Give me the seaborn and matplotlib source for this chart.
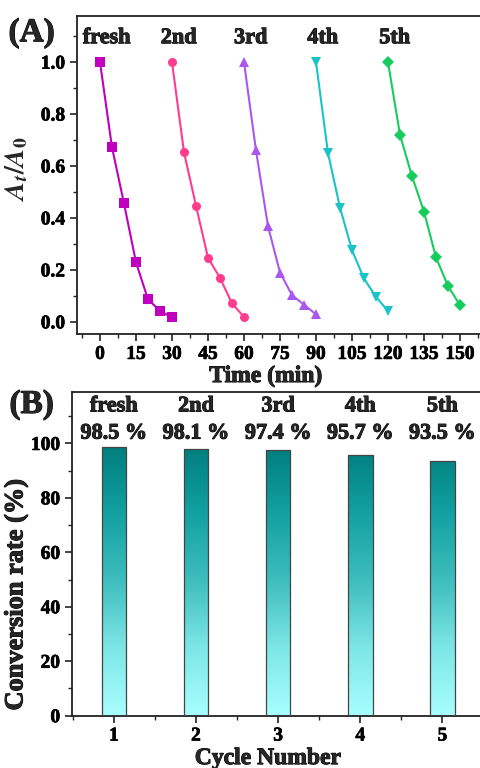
import numpy as np
import pandas as pd
import matplotlib
matplotlib.use("Agg")
import matplotlib.pyplot as plt
import matplotlib.patheffects as pe
import seaborn as sns
from matplotlib.ticker import MultipleLocator, FormatStrFormatter
from matplotlib.colors import LinearSegmentedColormap

# ---------------- data ----------------
cycle_names = ["fresh", "2nd", "3rd", "4th", "5th"]
minutes = [0, 5, 10, 15, 20, 25, 30]
ratio_fresh = [1.0, 0.672, 0.456, 0.229, 0.087, 0.042, 0.017]
ratio_2nd = [1.0, 0.653, 0.447, 0.247, 0.169, 0.071, 0.019]
ratio_3rd = [1.0, 0.660, 0.368, 0.190, 0.103, 0.066, 0.029]
ratio_4th = [1.0, 0.650, 0.440, 0.276, 0.167, 0.096, 0.042]
ratio_5th = [1.0, 0.720, 0.560, 0.424, 0.248, 0.138, 0.064]
cycle_duration = 30

cycle_numbers = [1, 2, 3, 4, 5]
conversion = [98.5, 98.1, 97.4, 95.7, 93.5]

# ---------------- style ----------------
sns.set_theme(style="ticks")
plt.rcParams["font.family"] = ["Liberation Serif", "DejaVu Serif"]
plt.rcParams["font.weight"] = "bold"
plt.rcParams["axes.labelweight"] = "bold"
plt.rcParams["mathtext.fontset"] = "stix"
plt.rcParams["axes.edgecolor"] = "#222222"
plt.rcParams["axes.linewidth"] = 1.3
plt.rcParams["xtick.color"] = "#222222"
plt.rcParams["ytick.color"] = "#222222"
plt.rcParams["xtick.labelcolor"] = "black"
plt.rcParams["ytick.labelcolor"] = "black"

heavy = [pe.withStroke(linewidth=0.7, foreground="black")]
heavy_small = [pe.withStroke(linewidth=0.5, foreground="black")]

palette = {"fresh": "#C000BE", "2nd": "#FF3D8E", "3rd": "#A957EE",
           "4th": "#19C3C8", "5th": "#17CC5E"}
markers = {"fresh": "s", "2nd": "o", "3rd": "^", "4th": "v", "5th": "D"}

series = [ratio_fresh, ratio_2nd, ratio_3rd, ratio_4th, ratio_5th]
rows = []
for i, (name, vals) in enumerate(zip(cycle_names, series)):
    for m, v in zip(minutes, vals):
        rows.append({"time": m + i * cycle_duration, "ratio": v, "cycle": name})
dfA = pd.DataFrame(rows)
dfB = pd.DataFrame({"cycle": cycle_numbers, "conv": conversion})

fig = plt.figure(figsize=(4.81, 7.68), dpi=100)


def style_ticks(ax):
    ax.tick_params(which="major", direction="out", length=5, width=1.2, labelsize=14)
    ax.tick_params(which="minor", direction="out", length=3, width=1.0)
    for lab in ax.get_xticklabels() + ax.get_yticklabels():
        lab.set_path_effects(heavy_small)


# ---------------- panel A ----------------
axA = fig.add_axes([0.160, 0.565, 0.840, 0.414])
sns.lineplot(data=dfA, x="time", y="ratio", hue="cycle", style="cycle",
             palette=palette, markers=markers, dashes=False, markersize=6.5,
             markeredgewidth=0, linewidth=1.5, legend=False, ax=axA,
             hue_order=cycle_names, style_order=cycle_names)
axA.set_xlim(-9.6, 158.75)
axA.set_ylim(-0.047, 1.177)
axA.xaxis.set_major_locator(MultipleLocator(15))
axA.xaxis.set_minor_locator(MultipleLocator(7.5))
axA.yaxis.set_major_locator(MultipleLocator(0.2))
axA.yaxis.set_minor_locator(MultipleLocator(0.1))
axA.yaxis.set_major_formatter(FormatStrFormatter("%.1f"))
axA.spines["right"].set_visible(False)
axA.set_xlabel("Time (min)", fontsize=17, fontweight="bold", path_effects=heavy)
axA.set_ylabel("$A_t/A_0$", fontsize=20)
axA.xaxis.set_label_coords(0.468, -0.10)
axA.yaxis.set_label_coords(-0.115, 0.52)
for i, name in enumerate(cycle_names):
    axA.text(i * cycle_duration + 2.8, 1.092, name, ha="center", va="center",
             fontsize=16, fontweight="bold", path_effects=heavy)
fig.text(0.066, 0.957, "(A)", fontsize=24, fontweight="bold", ha="center",
         va="center", path_effects=heavy)
style_ticks(axA)

# ---------------- panel B ----------------
axB = fig.add_axes([0.1497, 0.0681, 0.8503, 0.4219])
sns.barplot(data=dfB, x="cycle", y="conv", native_scale=True, width=0.3,
            color="#40B0B0", edgecolor="#444444", linewidth=0.9, ax=axB)
cmap = LinearSegmentedColormap.from_list(
    "teal", ["#A8FFFF", "#7DE6E6", "#3EBDBD", "#12A0A0", "#007C7C"])
grad = np.linspace(0, 1, 256).reshape(-1, 1)
for p in list(axB.patches):
    x0, w = p.get_x(), p.get_width()
    p.set_facecolor("none")
    p.set_zorder(3)
    im = axB.imshow(grad, extent=[x0, x0 + w, 0, 100], origin="lower",
                    cmap=cmap, aspect="auto", zorder=2)
    im.set_clip_path(p)
axB.set_xlim(0.49, 5.47)
axB.set_ylim(0, 119)
axB.xaxis.set_major_locator(MultipleLocator(1))
axB.xaxis.set_minor_locator(MultipleLocator(0.5))
axB.yaxis.set_major_locator(MultipleLocator(20))
axB.yaxis.set_minor_locator(MultipleLocator(10))
axB.spines["right"].set_visible(False)
axB.set_xlabel("Cycle Number", fontsize=17, fontweight="bold", path_effects=heavy)
axB.set_ylabel("Conversion rate (%)", fontsize=19, fontweight="bold", path_effects=heavy)
axB.xaxis.set_label_coords(0.479, -0.10)
axB.yaxis.set_label_coords(-0.108, 0.373)
for c, name, v in zip(cycle_numbers, cycle_names, conversion):
    axB.text(c, 113.6, name, ha="center", va="center", fontsize=16,
             fontweight="bold", path_effects=heavy)
    axB.text(c, 103.6, f"{v} %", ha="center", va="center", fontsize=16,
             fontweight="bold", path_effects=heavy)
fig.text(0.066, 0.473, "(B)", fontsize=24, fontweight="bold", ha="center",
         va="center", path_effects=heavy)
style_ticks(axB)

fig.savefig("out.png", dpi=100)
